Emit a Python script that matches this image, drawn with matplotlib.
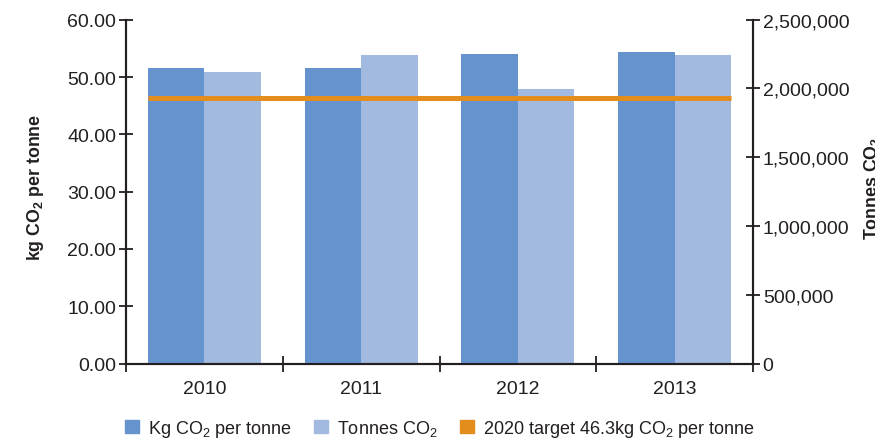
import numpy as np
import matplotlib
matplotlib.use('Agg')
import matplotlib.pyplot as plt
from matplotlib.patches import Patch

plt.rcParams['font.family'] = ['Liberation Sans', 'DejaVu Sans']
plt.rcParams['mathtext.fontset'] = 'custom'
plt.rcParams['mathtext.rm'] = 'Liberation Sans'
plt.rcParams['mathtext.bf'] = 'Liberation Sans:bold'

years = ['2010', '2011', '2012', '2013']
kg_per_tonne = [51.6, 51.6, 54.0, 54.4]
tonnes_co2 = [2120000, 2240000, 1995000, 2240000]
target_kg = 46.3

c_kg = '#6593cd'
c_tonnes = '#a3bae0'
c_target = '#e28d1c'
c_axis = '#231f20'
c_text = '#231f20'

dpi = 100
fig = plt.figure(figsize=(875 / dpi, 439 / dpi), dpi=dpi)
ax = fig.add_axes([0.144, 0.1697, 0.7166, 0.7831])
ax2 = ax.twinx()

x = np.arange(len(years))
w = 0.36
ax.bar(x - w / 2, kg_per_tonne, w, color=c_kg, zorder=2)
ax2.bar(x + w / 2, tonnes_co2, w, color=c_tonnes, zorder=2)

# target line runs across the full width of the bars
ax2.set_zorder(1)
ax.set_zorder(2)
ax.patch.set_visible(False)
ax.plot([x[0] - w, x[-1] + w], [target_kg, target_kg], color=c_target, lw=3.6,
        solid_capstyle='butt', zorder=3)

ax.set_xlim(-0.5, len(years) - 0.5)
ax.set_ylim(0, 60)
ax2.set_ylim(0, 2500000)

ax.set_yticks(np.arange(0, 61, 10))
ax.set_yticklabels(['%.2f' % v for v in np.arange(0, 61, 10)])
ax2.set_yticks(np.arange(0, 2500001, 500000))
ax2.set_yticklabels(['{:,}'.format(v) for v in range(0, 2500001, 500000)])

# category boundaries get the tick marks, labels sit at centres
ax.set_xticks(np.arange(-0.5, len(years), 1.0))
ax.set_xticklabels([])
ax.set_xticks(x, minor=True)
ax.set_xticklabels(years, minor=True)
ax.tick_params(axis='x', which='minor', length=0, pad=12, labelsize=14, labelcolor=c_text)
ax.tick_params(axis='x', which='major', direction='inout', length=11, width=1.3, color=c_axis)
ax.tick_params(axis='y', direction='inout', length=10, width=1.3, color=c_axis,
               labelsize=14, labelcolor=c_text, pad=2)
ax2.tick_params(axis='y', direction='inout', length=10, width=1.3, color=c_axis,
                labelsize=14, labelcolor=c_text, pad=2)

for a in (ax, ax2):
    a.spines['top'].set_visible(False)
    for s in ('left', 'right', 'bottom'):
        a.spines[s].set_color(c_axis)
        a.spines[s].set_linewidth(1.5)

fig.text(36 / 875, 1 - 187.5 / 439, r'kg CO$_\mathbf{2}$ per tonne', rotation=90,
         ha='center', va='center', fontsize=12.8, fontweight='bold', color=c_text)
fig.text(872 / 875, 1 - 188.5 / 439, r'Tonnes CO$_\mathbf{2}$', rotation=90,
         ha='center', va='center', fontsize=12.8, fontweight='bold', color=c_text)

handles = [Patch(color=c_kg), Patch(color=c_tonnes), Patch(color=c_target)]
labels = [r'Kg CO$_\mathregular{2}$ per tonne', r'Tonnes CO$_\mathregular{2}$',
          r'2020 target 46.3kg CO$_\mathregular{2}$ per tonne']
fig.legend(handles, labels, loc='center', bbox_to_anchor=(0.503, 0.022), ncol=3,
           frameon=False, fontsize=13, handlelength=0.8, handleheight=0.8,
           handletextpad=0.5, columnspacing=1.2, labelcolor=c_text)

fig.savefig('out.png', dpi=dpi)
